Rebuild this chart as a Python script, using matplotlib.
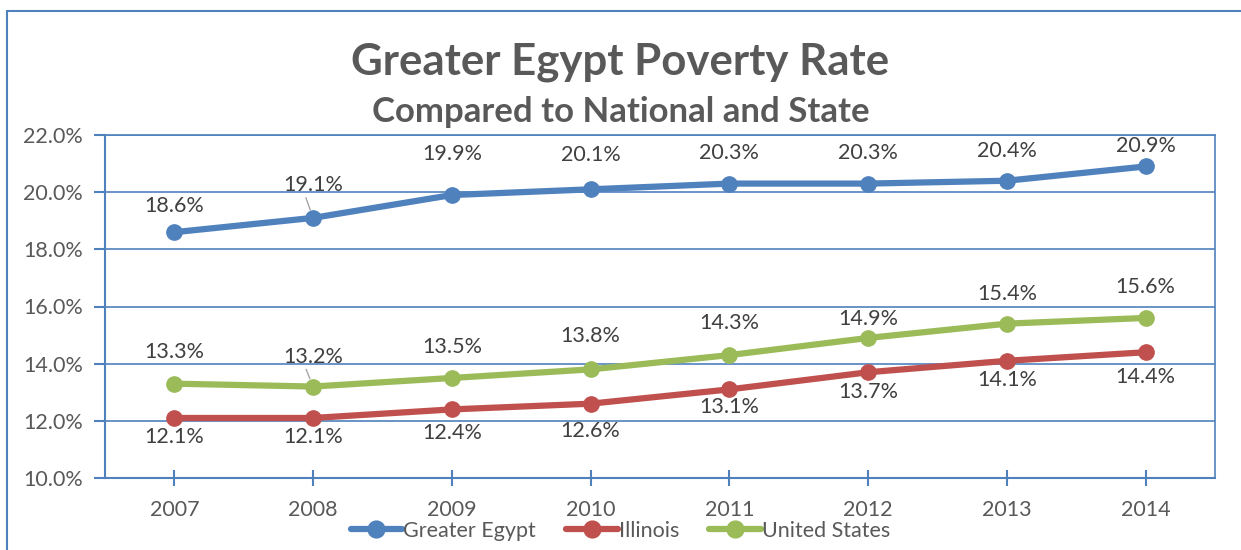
import matplotlib
matplotlib.use("Agg")
import matplotlib.pyplot as plt
from matplotlib.patches import Rectangle

years = [2007, 2008, 2009, 2010, 2011, 2012, 2013, 2014]
greater_egypt = [18.6, 19.1, 19.9, 20.1, 20.3, 20.3, 20.4, 20.9]
illinois = [12.1, 12.1, 12.4, 12.6, 13.1, 13.7, 14.1, 14.4]
united_states = [13.3, 13.2, 13.5, 13.8, 14.3, 14.9, 15.4, 15.6]
y_ticks = [10, 12, 14, 16, 18, 20, 22]

# label offsets in pixels (vertical) for each data label
ge_off = [26, 33, 41, 34, 31, 31, 30, 20]
us_off = [32, 30, 31, 33, 32, 19, 30, 31]
il_off = [-19, -19, -24, -27, -18, -20, -19, -25]

BLUE = '#4F81BD'
RED = '#C0504D'
GREEN = '#9BBB59'
TXT = '#595959'
LBL = '#404040'

plt.rcParams['font.family'] = ['Lato', 'DejaVu Sans']

fig = plt.figure(figsize=(12.41, 5.5), dpi=100)
ax = fig.add_axes([105/1241, 72/550, 1110/1241, 343/550])

x = list(range(len(years)))
series = [(greater_egypt, BLUE, 'Greater Egypt', ge_off),
          (illinois, RED, 'Illinois', il_off),
          (united_states, GREEN, 'United States', us_off)]
for vals, col, name, offs in series:
    ax.plot(x, vals, color=col, lw=4.5, marker='o', ms=11, label=name,
            solid_capstyle='round')
    for i, v in enumerate(vals):
        ap = None
        if i == 1 and name != 'Illinois':
            ap = dict(arrowstyle='-', color='#a6a6a6', lw=1, shrinkA=0, shrinkB=6,
                      relpos=(0.35, 0.1))
        ax.annotate('{:.1f}%'.format(v), (i, v), xytext=(0, offs[i]),
                    textcoords='offset pixels', ha='center', va='center',
                    fontsize=15.5, color=LBL, arrowprops=ap)

ax.set_xlim(-0.5, len(years) - 0.5)
ax.set_ylim(10, 22)
ax.set_yticks(y_ticks)
ax.set_yticklabels(['{:.1f}%'.format(t) for t in y_ticks])
ax.set_xticks(x)
ax.set_xticklabels([str(y) for y in years])
ax.grid(axis='y', color=BLUE, lw=1.2)
ax.set_axisbelow(True)
for s in ax.spines.values():
    s.set_color(BLUE)
    s.set_linewidth(1.5)
ax.spines['top'].set_linewidth(1.2)
ax.spines['right'].set_linewidth(1.2)
ax.tick_params(axis='y', colors=BLUE, labelcolor=TXT, labelsize=15.5, length=8,
               width=1.5, pad=8)
ax.tick_params(axis='x', colors=BLUE, labelcolor=TXT, labelsize=15.5, length=12,
               width=1.5, direction='inout', pad=10)

fig.text(0.5, 1 - 62/550, 'Greater Egypt Poverty Rate', ha='center', va='center',
         fontsize=31.5, fontweight='bold', color=TXT)
fig.text(0.5, 1 - 112/550, 'Compared to National and State', ha='center',
         va='center', fontsize=25, fontweight='bold', color=TXT)

fig.legend(loc='center', bbox_to_anchor=(0.5, 19/550), ncol=3, frameon=False,
           fontsize=15.5, handlelength=2.4, handletextpad=0.05, columnspacing=1.4,
           labelcolor=TXT, markerscale=1.1)

fig.patches.append(Rectangle((7/1241, -0.1), 1.2, 1 - 11/550 + 0.1,
                             transform=fig.transFigure, fill=False,
                             edgecolor=BLUE, lw=1.5))

fig.savefig('out.png', dpi=100)
